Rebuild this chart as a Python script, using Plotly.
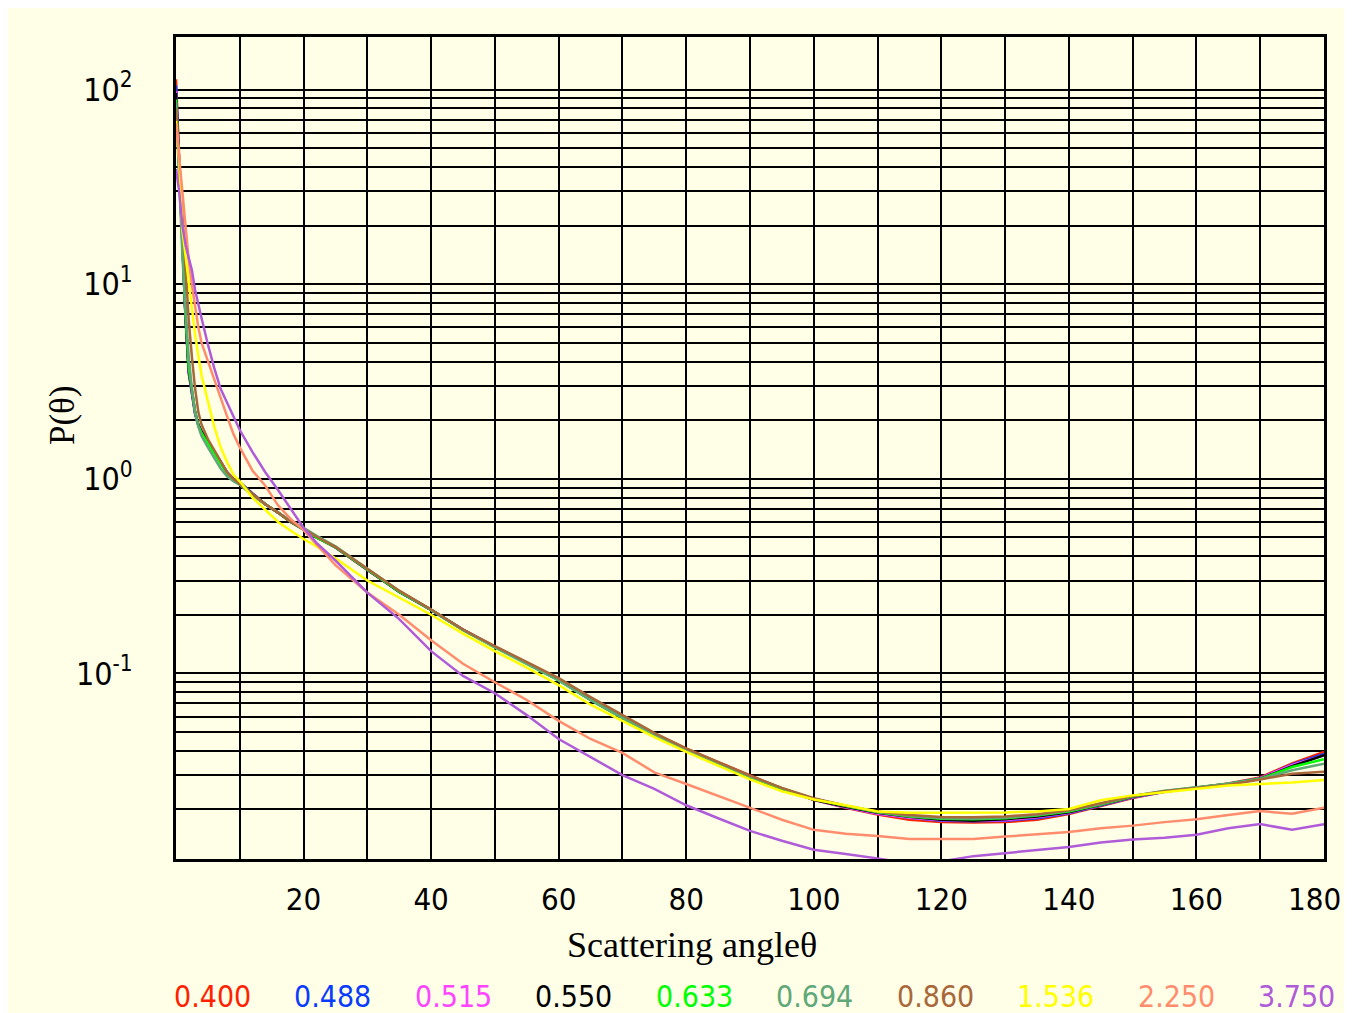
import plotly.graph_objects as go

# Scattering angle (degrees) shared by all series
angles = [0, 0.5, 1, 1.5, 2, 2.5, 3, 3.5, 4, 5, 6, 7, 8, 9, 10, 12, 14, 16, 18, 20,
          22, 25, 30, 35, 40, 45, 50, 55, 60, 65, 70, 75, 80, 85, 90, 95, 100, 105,
          110, 115, 120, 125, 130, 135, 140, 145, 150, 155, 160, 165, 170, 175, 180]

wl_400 = [113, 42, 17, 6.8, 3.5, 2.7, 2.15, 1.88, 1.74, 1.55, 1.38, 1.22, 1.08, 1.0, 0.96,
          0.84, 0.74, 0.67, 0.6, 0.555, 0.505, 0.445, 0.34, 0.264, 0.212, 0.168, 0.137, 0.114,
          0.094, 0.075, 0.06, 0.049, 0.041, 0.035, 0.0298, 0.0256, 0.0224, 0.0204, 0.0188,
          0.0177, 0.0172, 0.0171, 0.0172, 0.0177, 0.0189, 0.0208, 0.0229, 0.0246, 0.0258,
          0.0272, 0.0292, 0.0345, 0.0395]
wl_488 = [105, 40, 16.5, 6.7, 3.5, 2.7, 2.15, 1.88, 1.74, 1.55, 1.38, 1.22, 1.08, 1.0, 0.96,
          0.84, 0.74, 0.67, 0.6, 0.553, 0.503, 0.444, 0.34, 0.263, 0.212, 0.168, 0.137, 0.113,
          0.093, 0.074, 0.06, 0.0487, 0.0408, 0.0349, 0.0296, 0.0256, 0.0224, 0.0205, 0.019,
          0.0181, 0.0175, 0.0174, 0.0175, 0.018, 0.0191, 0.0209, 0.023, 0.0246, 0.0258,
          0.0271, 0.0289, 0.034, 0.0385]
wl_515 = [98, 39, 16.2, 6.7, 3.55, 2.75, 2.18, 1.9, 1.75, 1.55, 1.38, 1.22, 1.07, 1.0, 0.95,
          0.83, 0.74, 0.67, 0.6, 0.552, 0.502, 0.444, 0.34, 0.263, 0.212, 0.167, 0.137, 0.113,
          0.093, 0.074, 0.06, 0.0485, 0.0406, 0.0348, 0.0295, 0.0255, 0.0224, 0.0205, 0.019,
          0.0181, 0.0176, 0.0175, 0.0176, 0.0182, 0.0192, 0.021, 0.0231, 0.0246, 0.0258,
          0.0271, 0.0289, 0.0338, 0.0378]
wl_550 = [96, 38, 16, 6.6, 3.6, 2.8, 2.2, 1.9, 1.75, 1.55, 1.38, 1.22, 1.07, 1.0, 0.95,
          0.83, 0.74, 0.67, 0.6, 0.55, 0.5, 0.445, 0.34, 0.262, 0.212, 0.167, 0.137, 0.113,
          0.0925, 0.073, 0.059, 0.0483, 0.0404, 0.0347, 0.0294, 0.0255, 0.0224, 0.0206, 0.0192,
          0.0183, 0.0177, 0.0175, 0.0178, 0.0184, 0.0193, 0.0211, 0.0232, 0.0247, 0.0258,
          0.027, 0.0287, 0.0333, 0.038]
wl_633 = [89, 36, 15, 6.8, 3.7, 2.8, 2.2, 1.88, 1.72, 1.52, 1.35, 1.2, 1.06, 0.99, 0.95,
          0.83, 0.74, 0.67, 0.6, 0.55, 0.5, 0.445, 0.342, 0.263, 0.212, 0.167, 0.136, 0.112,
          0.092, 0.073, 0.059, 0.0483, 0.0404, 0.0346, 0.0294, 0.0256, 0.0226, 0.0208, 0.0193,
          0.0184, 0.0179, 0.0178, 0.018, 0.0186, 0.0195, 0.0212, 0.0233, 0.0248, 0.0259,
          0.0271, 0.0287, 0.033, 0.0362]
wl_694 = [86, 34, 14, 7.2, 4.2, 2.9, 2.2, 1.85, 1.66, 1.45, 1.27, 1.13, 1.03, 0.97, 0.93,
          0.82, 0.74, 0.67, 0.61, 0.56, 0.51, 0.45, 0.345, 0.265, 0.212, 0.167, 0.136, 0.112,
          0.092, 0.073, 0.059, 0.0484, 0.0405, 0.0347, 0.0295, 0.0257, 0.0227, 0.0209, 0.0194,
          0.0185, 0.018, 0.0179, 0.0181, 0.0187, 0.0197, 0.0213, 0.0234, 0.0249, 0.026,
          0.0271, 0.0286, 0.0318, 0.0343]
wl_860 = [80, 42, 22, 11, 6.5, 4.2, 2.9, 2.2, 1.9, 1.6, 1.4, 1.22, 1.08, 1.0, 0.94,
          0.83, 0.74, 0.67, 0.6, 0.553, 0.505, 0.447, 0.345, 0.266, 0.213, 0.168, 0.138, 0.114,
          0.0945, 0.0755, 0.061, 0.0495, 0.0412, 0.0352, 0.0298, 0.0258, 0.0228, 0.0209, 0.0195,
          0.0187, 0.0183, 0.0182, 0.0184, 0.0189, 0.0198, 0.0215, 0.0234, 0.0248, 0.0258,
          0.0268, 0.0285, 0.0305, 0.0312]
wl_1536 = [69, 43, 19, 14, 9.9, 7.3, 5.5, 4.3, 3.4, 2.5, 1.85, 1.45, 1.22, 1.05, 0.97,
           0.8, 0.69, 0.6, 0.54, 0.49, 0.45, 0.39, 0.3, 0.245, 0.2, 0.16, 0.13, 0.107,
           0.087, 0.069, 0.057, 0.047, 0.0395, 0.0335, 0.0285, 0.0248, 0.0225, 0.021, 0.0195,
           0.0192, 0.0192, 0.0192, 0.0193, 0.0195, 0.0201, 0.0223, 0.0236, 0.0245, 0.0254,
           0.0265, 0.027, 0.0275, 0.0283]
wl_2250 = [67, 45, 30, 19, 13.3, 9.9, 7.5, 6.0, 5.0, 4.0, 3.2, 2.6, 2.1, 1.7, 1.45,
           1.1, 0.92, 0.73, 0.62, 0.545, 0.46, 0.36, 0.26, 0.2, 0.148, 0.112, 0.09, 0.073,
           0.057, 0.046, 0.039, 0.031, 0.027, 0.0235, 0.0205, 0.0177, 0.0157, 0.015, 0.0146,
           0.0141, 0.0141, 0.0141, 0.0145, 0.0149, 0.0153, 0.016, 0.0165, 0.0172, 0.0178,
           0.0187, 0.0196, 0.019, 0.0204]
wl_3750 = [39, 30, 20, 15.9, 13.6, 11.8, 9.3, 7.8, 6.7, 4.9, 3.7, 2.9, 2.48, 2.1, 1.78,
           1.37, 1.08, 0.875, 0.7, 0.56, 0.47, 0.38, 0.26, 0.19, 0.13, 0.097, 0.079, 0.061,
           0.046, 0.037, 0.030, 0.0255, 0.021, 0.018, 0.0155, 0.0138, 0.0124, 0.0118, 0.0112,
           0.0105, 0.0108, 0.0115, 0.0119, 0.0124, 0.0128, 0.0135, 0.014, 0.0143, 0.0148,
           0.016, 0.0168, 0.0157, 0.0168]

labels = ["0.400", "0.488", "0.515", "0.550", "0.633", "0.694", "0.860", "1.536", "2.250", "3.750"]
series = [wl_400, wl_488, wl_515, wl_550, wl_633, wl_694, wl_860, wl_1536, wl_2250, wl_3750]
colors = ["#FF2200", "#0A3CFF", "#FF44FF", "#000000", "#00FF00", "#60A878",
          "#A8683A", "#FFFF00", "#FF8C6C", "#B05CD8"]

x_tickvals = list(range(0, 181, 10))
# the last label (180) sits at the right edge and is placed as its own text below
x_ticktext = [str(v) if (v % 20 == 0 and 0 < v < 180) else "" for v in x_tickvals]
x_last_label = "180"

y_tickvals = []
y_ticktext = []
decade_text = {0.1: "10<sup>-1</sup>", 1: "10<sup>0</sup>", 10: "10<sup>1</sup>", 100: "10<sup>2</sup>"}
for dec in [0.01, 0.1, 1, 10]:
    for m in range(1, 10):
        v = round(m * dec, 6)
        y_tickvals.append(v)
        y_ticktext.append(decade_text.get(v, ""))
y_tickvals.append(100)
y_ticktext.append(decade_text[100])

cream = "#FFFFE8"
narrow = "DejaVu Sans Condensed, Liberation Sans Narrow, sans-serif"
serif = "Liberation Serif, DejaVu Serif, serif"

fig = go.Figure()
for lab, vals, col in zip(labels, series, colors):
    fig.add_trace(go.Scatter(x=angles, y=vals, mode="lines", name=lab,
                             line=dict(color=col, width=2.5), showlegend=False))

# page has an 8px body margin; figure spans the rest of the window
OFF = 8
W, H = 1352 - OFF, 1013 - OFF
L, T = 176 - OFF, 37 - OFF
R = W - (1324 - OFF)
B = H - (859 - OFF)
pw, ph = W - L - R, H - T - B

def px(xp):
    return (xp - OFF - L) / pw

def py(yp):
    return (H - B - (yp - OFF)) / ph

annotations = []
for i, (lab, col) in enumerate(zip(labels, colors)):
    cx = 212 + i * 120.5
    annotations.append(dict(x=px(cx), y=py(997), xref="paper", yref="paper",
                            text=lab, showarrow=False, xanchor="center", yanchor="middle",
                            font=dict(family=narrow, size=30, color=col)))
annotations.append(dict(x=px(1343), y=py(899), xref="paper", yref="paper",
                        text=x_last_label, showarrow=False, xanchor="right", yanchor="middle",
                        font=dict(family=narrow, size=31, color="black")))
annotations.append(dict(x=px(692), y=py(945), xref="paper", yref="paper",
                        text="Scattering angleθ", showarrow=False,
                        xanchor="center", yanchor="middle",
                        font=dict(family=serif, size=36, color="black")))
annotations.append(dict(x=px(62), y=py(415), xref="paper", yref="paper",
                        text="P(θ)", showarrow=False, textangle=-90,
                        xanchor="center", yanchor="middle",
                        font=dict(family=serif, size=35, color="black")))

fig.update_layout(
    width=W, height=H,
    margin=dict(l=L, r=R, t=T, b=B, pad=0, autoexpand=False),
    paper_bgcolor=cream,
    plot_bgcolor=cream,
    annotations=annotations,
    xaxis=dict(range=[0, 180], tickmode="array", tickvals=x_tickvals, ticktext=x_ticktext,
               showgrid=True, gridcolor="black", gridwidth=2,
               showline=True, linecolor="black", linewidth=3, mirror=True,
               ticks="", ticklabelstandoff=11, zeroline=False, automargin=False,
               ticklabeloverflow="allow",
               tickfont=dict(family=narrow, size=31, color="black")),
    yaxis=dict(type="log", range=[-1.954, 2.270], tickmode="array",
               tickvals=y_tickvals, ticktext=y_ticktext,
               showgrid=True, gridcolor="black", gridwidth=2,
               showline=True, linecolor="black", linewidth=3, mirror=True,
               ticks="", ticklabelstandoff=34, zeroline=False, automargin=False,
               ticklabeloverflow="allow",
               tickfont=dict(family=narrow, size=32, color="black")),
)

fig.write_html(
    "out.html",
    post_script="document.documentElement.style.overflow='hidden';"
                "document.body.style.overflow='hidden';",
)
